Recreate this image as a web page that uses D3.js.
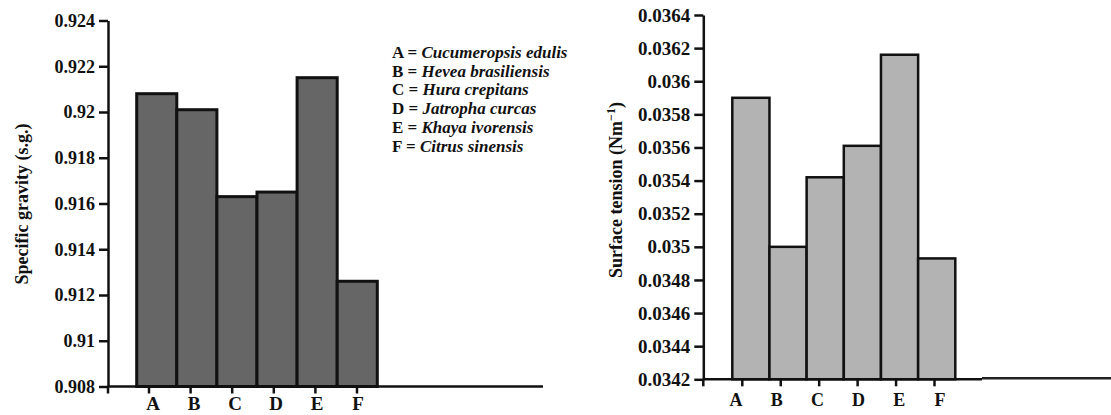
<!DOCTYPE html>
<html>
<head>
<meta charset="utf-8">
<script src="https://cdn.jsdelivr.net/npm/d3@7"></script>
<style>
  body { margin: 0; background: #fff; }
  svg { display: block; font-family: "Liberation Serif", "Times New Roman", serif; }
  .axis path, .axis line { stroke: #111; stroke-width: 2.5px; }
  .axis text { fill: #111; font-weight: bold; font-family: "Liberation Serif", "Times New Roman", serif; }
</style>
</head>
<body>
<div id="chart"></div>
<script>
var svgWidth = 1111;
var svgHeight = 415;

// Data
var categories = ["A", "B", "C", "D", "E", "F"];
var gravityValues = [0.9208, 0.9201, 0.9163, 0.9165, 0.9215, 0.9126];
var tensionValues = [0.03590, 0.03500, 0.03542, 0.03561, 0.03616, 0.03493];
var gravityTicks = [0.908, 0.91, 0.912, 0.914, 0.916, 0.918, 0.92, 0.922, 0.924];
var tensionTicks = [0.0342, 0.0344, 0.0346, 0.0348, 0.035, 0.0352, 0.0354, 0.0356, 0.0358, 0.036, 0.0362, 0.0364];
var legendKeys = ["A", "B", "C", "D", "E", "F"];
var legendNames = ["Cucumeropsis edulis", "Hevea brasiliensis", "Hura crepitans",
    "Jatropha curcas", "Khaya ivorensis", "Citrus sinensis"];

var svg = d3.select("#chart").append("svg")
    .attr("width", svgWidth)
    .attr("height", svgHeight);

var fmt = function (d) { return String(+d.toFixed(4)); };

function drawPanel(opt) {
    var g = svg.append("g");

    var y = d3.scaleLinear()
        .domain([opt.ticks[0], opt.ticks[opt.ticks.length - 1]])
        .range([opt.bottom, opt.top]);

    var xBars = d3.scaleBand()
        .domain(categories)
        .range(opt.barRange)
        .padding(0);

    var xTicks = d3.scalePoint().domain(categories).range(opt.tickRange);
    var xLabels = d3.scalePoint().domain(categories).range(opt.labelRange);

    // bars
    g.selectAll("rect")
        .data(opt.values)
        .enter()
        .append("rect")
        .attr("x", (d, i) => xBars(categories[i]))
        .attr("y", d => y(d))
        .attr("width", xBars.bandwidth())
        .attr("height", d => y(opt.ticks[0]) - y(d))
        .attr("fill", opt.fill)
        .attr("stroke", "#111")
        .attr("stroke-width", opt.barStroke);

    // baseline
    g.append("line")
        .attr("x1", opt.axisX).attr("x2", opt.baseEnd)
        .attr("y1", y(opt.ticks[0])).attr("y2", y(opt.ticks[0]))
        .attr("stroke", "#111").attr("stroke-width", 2.5);
    if (opt.baseTail) {
        g.append("line")
            .attr("x1", opt.baseEnd).attr("x2", opt.baseTail)
            .attr("y1", y(opt.ticks[0]) - 1).attr("y2", y(opt.ticks[0]) - 1)
            .attr("stroke", "#222").attr("stroke-width", 2.5);
    }

    // y axis
    var leftAxis = d3.axisLeft(y)
        .tickValues(opt.ticks)
        .tickFormat(fmt)
        .tickSize(9)
        .tickSizeOuter(0)
        .tickPadding(4);
    var axisG = g.append("g")
        .attr("class", "axis")
        .attr("transform", `translate(${opt.axisX}, 0)`)
        .call(leftAxis);
    axisG.attr("font-family", null).attr("font-size", null);
    axisG.selectAll("text")
        .style("font-family", "'Liberation Serif', serif")
        .style("font-size", opt.tickFont + "px")
        .style("font-weight", "bold");

    // axis line runs a little below the baseline
    g.append("line")
        .attr("x1", opt.axisX).attr("x2", opt.axisX)
        .attr("y1", y(opt.ticks[0])).attr("y2", y(opt.ticks[0]) + 7)
        .attr("stroke", "#111").attr("stroke-width", 2.5);

    // x ticks
    g.selectAll(".xtick")
        .data(categories)
        .enter()
        .append("line")
        .attr("class", "xtick")
        .attr("x1", d => xTicks(d)).attr("x2", d => xTicks(d))
        .attr("y1", y(opt.ticks[0])).attr("y2", y(opt.ticks[0]) + 7)
        .attr("stroke", "#111").attr("stroke-width", 2.5);

    g.selectAll(".xlabel")
        .data(categories)
        .enter()
        .append("text")
        .attr("class", "xlabel")
        .attr("x", d => xLabels(d))
        .attr("y", opt.labelY)
        .attr("text-anchor", "middle")
        .style("font-size", opt.catFont + "px")
        .style("font-weight", "bold")
        .attr("fill", "#111")
        .text(d => d);

    return g;
}

var left = drawPanel({
    values: gravityValues,
    ticks: gravityTicks,
    top: 20.5, bottom: 386.5,
    axisX: 108,
    barRange: [136.7, 377.3],
    tickRange: [149, 357],
    labelRange: [153, 358],
    labelY: 410,
    baseEnd: 543,
    fill: "#666666",
    barStroke: 3,
    tickFont: 18,
    catFont: 19
});

var right = drawPanel({
    values: tensionValues,
    ticks: tensionTicks,
    top: 15, bottom: 379.3,
    axisX: 703.3,
    barRange: [732.3, 955.3],
    tickRange: [742.3, 934.5],
    labelRange: [736, 940],
    labelY: 406,
    baseEnd: 982,
    baseTail: 1111,
    fill: "#b3b3b3",
    barStroke: 2.5,
    tickFont: 19,
    catFont: 18
});

// Y axis labels
left.append("text")
    .attr("transform", "translate(28, 204) rotate(-90)")
    .attr("text-anchor", "middle")
    .style("font-size", "18px")
    .style("font-weight", "bold")
    .attr("fill", "#111")
    .text("Specific gravity (s.g.)");

var rlab = right.append("text")
    .attr("transform", "translate(622, 190) rotate(-90)")
    .attr("text-anchor", "middle")
    .style("font-size", "18px")
    .style("font-weight", "bold")
    .attr("fill", "#111");
rlab.append("tspan").text("Surface tension (Nm");
rlab.append("tspan").attr("dy", -7).style("font-size", "12px").text("\u22121");
rlab.append("tspan").attr("dy", 7).text(")");

// Legend
var legend = left.append("g");
var rows = legend.selectAll("text")
    .data(legendKeys)
    .enter()
    .append("text")
    .attr("x", 392)
    .attr("y", (d, i) => 58 + i * 18.7)
    .style("font-size", "17px")
    .style("font-weight", "bold")
    .attr("fill", "#111");
rows.append("tspan").text(d => d + " = ");
rows.append("tspan").style("font-style", "italic").text((d, i) => legendNames[i]);
</script>
</body>
</html>
